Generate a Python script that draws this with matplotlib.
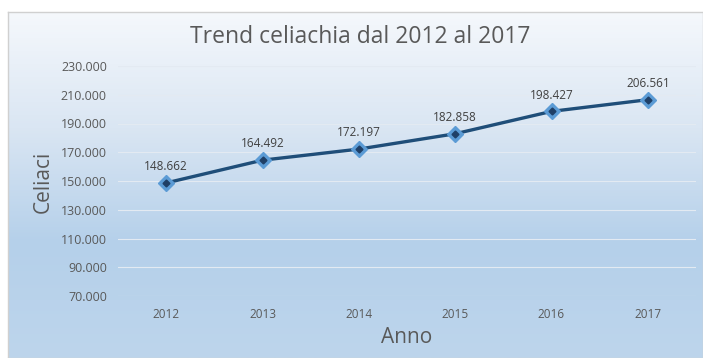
import numpy as np
import matplotlib.pyplot as plt
from matplotlib.colors import LinearSegmentedColormap

anni = ['2012', '2013', '2014', '2015', '2016', '2017']
celiaci = [148662, 164492, 172197, 182858, 198427, 206561]
etichette = ['148.662', '164.492', '172.197', '182.858', '198.427', '206.561']
yticks = [70000, 90000, 110000, 130000, 150000, 170000, 190000, 210000, 230000]

plt.rcParams['font.family'] = ['Open Sans', 'DejaVu Sans']

fig = plt.figure(figsize=(7.03, 3.58), dpi=100)
fig.patch.set_facecolor('white')

# sfondo sfumato dell'area grafico
bg = fig.add_axes([8/703, 0, 1 - 8/703, 346/358])
cmap = LinearSegmentedColormap.from_list('sf', ['#f5f8fc', '#dae6f3', '#b5d0ea', '#bdd5ec'])
grad = np.linspace(0, 1, 256).reshape(-1, 1)
bg.imshow(grad, aspect='auto', cmap=cmap, extent=[0, 1, 0, 1], origin='upper')
bg.set_xticks([])
bg.set_yticks([])
for s in bg.spines.values():
    s.set_color('#d0d0d0')
    s.set_linewidth(1)

ax = fig.add_axes([118/703, 62/358, 578/703, 230/358])
ax.patch.set_alpha(0)
x = np.arange(len(anni))
ax.plot(x, celiaci, color='#1f4e79', lw=2.4, zorder=3)
ax.plot(x, celiaci, 'D', ms=8.5, mfc='#5b9bd5', mec='#5b9bd5', zorder=4)
ax.plot(x, celiaci, 'D', ms=3.5, mfc='#1f3f66', mec='#1f3f66', zorder=5)
for xi, yi, t in zip(x, celiaci, etichette):
    ax.annotate(t, (xi, yi), xytext=(0, 7), textcoords='offset points',
                ha='center', va='bottom', fontsize=8.5, color='#404040')

ax.set_xlim(-0.5, 5.5)
ax.set_ylim(70000, 230000)
ax.set_yticks(yticks)
ax.set_yticklabels(['{:,}'.format(v).replace(',', '.') for v in yticks])
ax.set_xticks(x)
ax.set_xticklabels(anni)
ax.tick_params(length=0, colors='#595959')
ax.tick_params(axis='x', pad=9, labelsize=8.5)
ax.tick_params(axis='y', pad=8, labelsize=9)
ax.grid(axis='y', color='#e3eaf2', lw=0.8)
for s in ax.spines.values():
    s.set_visible(False)

fig.text(0.513, 0.897, 'Trend celiachia dal 2012 al 2017', ha='center', va='center',
         fontsize=16.5, color='#595959')
fig.text(0.061, 0.492, 'Celiaci', rotation=90, ha='center', va='center',
         fontsize=15, color='#595959')
fig.text(0.578, 0.058, 'Anno', ha='center', va='center', fontsize=15, color='#595959')

fig.savefig('out.png', dpi=100)
